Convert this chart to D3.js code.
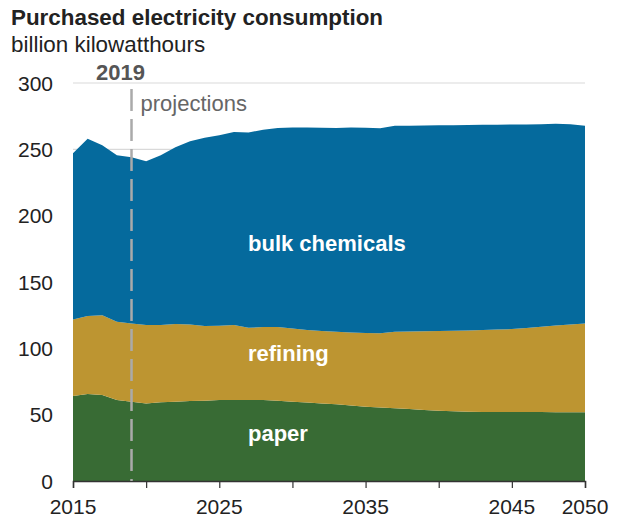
<!DOCTYPE html>
<meta charset="utf-8">
<script src="https://d3js.org/d3.v7.min.js"></script>
<style>
  body { margin: 0; background: #fff; }
  text { font-family: "Liberation Sans", Arial, sans-serif; }
</style>
<div id="chart"></div>
<script>
// data (billion kWh)
var years = d3.range(2015, 2051);
var paper = [64, 65.6, 64.8, 61, 59.8, 58.5, 59.3, 59.8, 60.3, 60.5, 61, 61, 61, 61, 60.5, 59.8, 59.2, 58.5,
  57.8, 57, 56, 55.4, 54.8, 54.2, 53.6, 53, 52.6, 52.2, 52.1, 52, 52, 52, 52, 51.9, 51.9, 51.8];
var refining = [57.8, 58.7, 60.1, 59, 59, 59.1, 58.3, 58.5, 57.7, 56.3, 56, 56.6, 54.5, 55, 55.5, 55.2, 54.6, 54.5,
  54.7, 55, 55.6, 55.9, 57.7, 58.4, 59.2, 60, 60.6, 61.3, 61.7, 62.2, 62.5, 63.3, 64.3, 65.3, 66.1, 67];
var bulkChemicals = [125.2, 133.7, 128.1, 125.6, 125.2, 123.4, 128, 133.2, 138, 141.9, 143.7, 145.4, 147.2, 148.8,
  150, 151.5, 152.6, 153.2, 153.5, 154.4, 154.7, 154.6, 155.2, 155.2, 155.2, 155.1, 155, 154.9, 154.7, 154.4,
  154.2, 153.5, 152.7, 152.1, 151, 148.9];
var seriesNames = ["paper", "refining", "bulk chemicals"];
var seriesColors = ["#386b34", "#bd9531", "#056a9d"];
var yTicks = [0, 50, 100, 150, 200, 250, 300];
var xTicks = [2015, 2020, 2025, 2030, 2035, 2040, 2045, 2050];
var xLabels = [2015, 2025, 2035, 2045, 2050];
var projectionYear = 2019;

var width = 621, height = 518;
var margin = {top: 83, right: 36, bottom: 37, left: 73};

var svg = d3.select("#chart").append("svg")
    .attr("width", width)
    .attr("height", height);

var x = d3.scaleLinear()
  .domain([2015, 2050])
  .range([margin.left, width - margin.right]);
var y = d3.scaleLinear()
  .domain([0, 300])
  .range([height - margin.bottom, margin.top]);

// table for the stack
var table = years.map(function(yr, i) {
  return {year: yr, "paper": paper[i], "refining": refining[i], "bulk chemicals": bulkChemicals[i]};
});
var stacked = d3.stack().keys(seriesNames)(table);

// gridlines
svg.append("g").selectAll("line")
  .data(yTicks.slice(1))
  .enter().append("line")
    .attr("x1", x(2015)).attr("x2", x(2050))
    .attr("y1", function(d) { return y(d); })
    .attr("y2", function(d) { return y(d); })
    .attr("stroke", "#d9d9d9")
    .attr("stroke-width", 1.2);

// areas
var area = d3.area()
  .x(function(d) { return x(d.data.year); })
  .y0(function(d) { return y(d[0]); })
  .y1(function(d) { return y(d[1]); });

svg.append("g").selectAll("path")
  .data(stacked)
  .enter().append("path")
    .attr("d", area)
    .attr("fill", function(d, i) { return seriesColors[i]; });

// y labels
svg.append("g").selectAll("text")
  .data(yTicks)
  .enter().append("text")
    .attr("x", 53)
    .attr("y", function(d) { return y(d); })
    .attr("dy", "0.36em")
    .attr("text-anchor", "end")
    .style("font-size", "21px")
    .attr("fill", "#222")
    .text(function(d) { return d; });

// x axis
var xAxis = svg.append("g")
  .attr("transform", "translate(0," + y(0) + ")")
  .call(d3.axisBottom(x).tickValues(xTicks).tickSize(7).tickFormat(""));
xAxis.select(".domain").attr("stroke", "#333").attr("stroke-width", 1.5);
xAxis.selectAll(".tick line").attr("stroke", "#333").attr("stroke-width", 1.2);

svg.append("g").selectAll("text")
  .data(xLabels)
  .enter().append("text")
    .attr("x", function(d) { return x(d); })
    .attr("y", 514)
    .attr("text-anchor", "middle")
    .style("font-size", "21px")
    .attr("fill", "#222")
    .text(function(d) { return d; });

// projections marker
svg.append("line")
  .attr("x1", x(projectionYear)).attr("x2", x(projectionYear))
  .attr("y1", 89).attr("y2", y(0))
  .attr("stroke", "#aaaaaa")
  .attr("stroke-width", 2.5)
  .attr("stroke-dasharray", "22,8");

svg.append("text")
  .attr("x", x(projectionYear) - 11)
  .attr("y", 80)
  .attr("text-anchor", "middle")
  .style("font-size", "22px")
  .style("font-weight", "bold")
  .attr("fill", "#555")
  .text(projectionYear);

svg.append("text")
  .attr("x", x(projectionYear) + 9)
  .attr("y", 111)
  .style("font-size", "22px")
  .attr("fill", "#666")
  .text("projections");

// series labels
var seriesLabelY = [441, 361, 251];
svg.append("g").selectAll("text")
  .data(seriesNames)
  .enter().append("text")
    .attr("x", 248)
    .attr("y", function(d, i) { return seriesLabelY[i]; })
    .style("font-size", "22px")
    .style("font-weight", "bold")
    .attr("fill", "#fff")
    .text(function(d) { return d; });

// title
svg.append("text")
  .attr("x", 11)
  .attr("y", 25)
  .style("font-size", "22.4px")
  .style("font-weight", "bold")
  .attr("fill", "#222")
  .text("Purchased electricity consumption");

svg.append("text")
  .attr("x", 11)
  .attr("y", 52)
  .style("font-size", "22.4px")
  .attr("fill", "#222")
  .text("billion kilowatthours");
</script>
